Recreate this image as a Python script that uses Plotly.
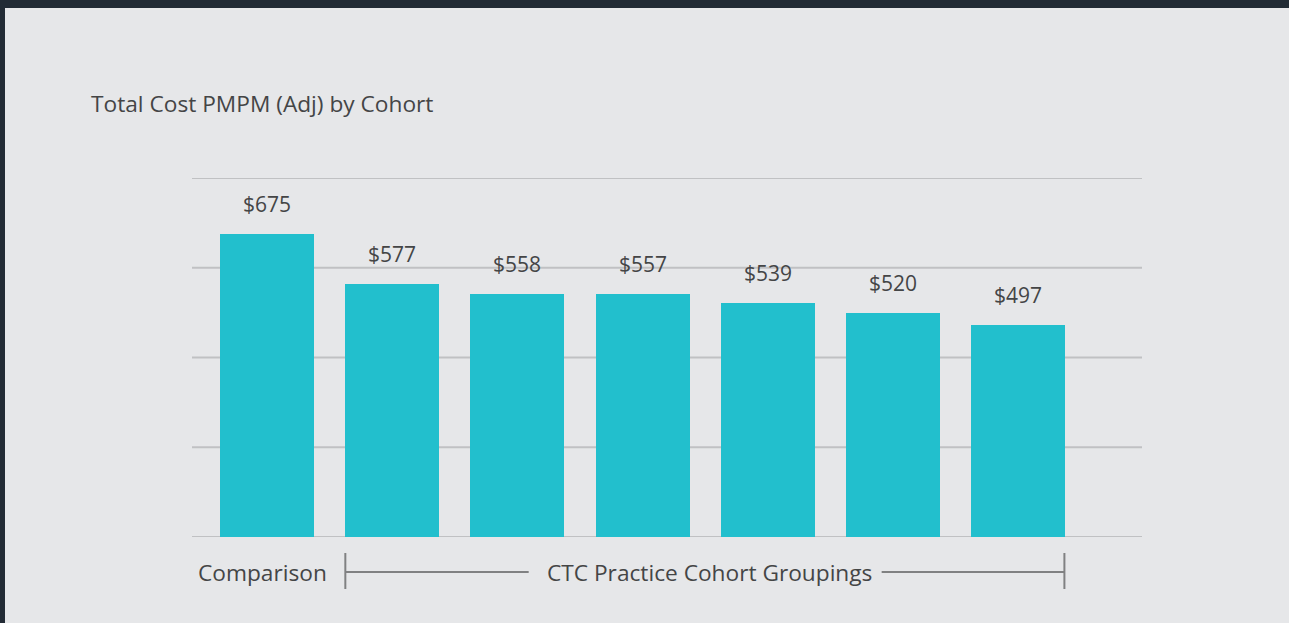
import plotly.graph_objects as go

categories = ["Comparison", "CTC 1", "CTC 2", "CTC 3", "CTC 4", "CTC 5", "CTC 6"]
values = [675, 577, 558, 557, 539, 520, 497]
labels = ["$675", "$577", "$558", "$557", "$539", "$520", "$497"]
grid_vals = [78, 255, 432, 609, 786]
group_left = "Comparison"
group_right = "CTC Practice Cohort Groupings"
title = "Total Cost PMPM (Adj) by Cohort"

W, H = 1289, 623
L, R, T, B = 192, 1142, 178, 537
FONT = "Open Sans"
TXT = "#444546"
BG = "#e6e7e9"
FRAME = "#222b35"
LINE = "#808182"
GRID = "#c0c1c3"

def px(x):
    return (x - L) / (R - L)

def py(y):
    return (B - y) / (B - T)

xs = list(range(len(categories)))

fig = go.Figure()
fig.add_trace(go.Bar(
    x=xs, y=[v - grid_vals[0] for v in values], base=grid_vals[0], width=0.75,
    marker=dict(color="#22bfcd", line=dict(width=0)), hoverinfo="skip",
))

annotations = []
for x, v, t in zip(xs, values, labels):
    annotations.append(dict(x=x, y=v, xref="x", yref="y", text=t, showarrow=False,
                            yanchor="bottom", yshift=14,
                            font=dict(family=FONT, size=21, color=TXT)))
annotations.append(dict(x=px(262), y=py(572), xref="paper", yref="paper", text=group_left,
                        showarrow=False, xanchor="center", yanchor="middle",
                        font=dict(family=FONT, size=22.7, color=TXT)))
annotations.append(dict(x=px(709), y=py(572), xref="paper", yref="paper", text=group_right,
                        showarrow=False, xanchor="center", yanchor="middle",
                        font=dict(family=FONT, size=22.7, color=TXT)))
annotations.append(dict(x=px(89), y=py(103), xref="paper", yref="paper", text=title,
                        showarrow=False, xanchor="left", yanchor="middle",
                        font=dict(family=FONT, size=22.7, color=TXT)))

shapes = [
    dict(type="rect", xref="paper", yref="paper", x0=px(0), x1=px(W), y0=py(0), y1=py(8),
         fillcolor=FRAME, line=dict(width=0), layer="above"),
    dict(type="rect", xref="paper", yref="paper", x0=px(0), x1=px(5), y0=py(0), y1=py(H),
         fillcolor=FRAME, line=dict(width=0), layer="above"),
    dict(type="line", xref="x", yref="paper", x0=0.625, x1=0.625, y0=py(553), y1=py(589),
         line=dict(color=LINE, width=2)),
    dict(type="line", xref="x", yref="paper", x0=0.625, x1=2.09, y0=py(572), y1=py(572),
         line=dict(color=LINE, width=2)),
    dict(type="line", xref="x", yref="paper", x0=4.91, x1=6.37, y0=py(572), y1=py(572),
         line=dict(color=LINE, width=2)),
    dict(type="line", xref="x", yref="paper", x0=6.37, x1=6.37, y0=py(553), y1=py(589),
         line=dict(color=LINE, width=2)),
]
for g in grid_vals:
    shapes.append(dict(type="line", xref="paper", yref="y", x0=0, x1=1, y0=g, y1=g,
                       line=dict(color=GRID, width=2.2), layer="below"))

fig.update_layout(
    width=W, height=H,
    margin=dict(l=L, r=W - R, t=T, b=H - B, pad=0),
    paper_bgcolor=BG, plot_bgcolor=BG,
    showlegend=False,
    bargap=0,
    xaxis=dict(range=[-0.6, 6.99], showticklabels=False, showgrid=False, zeroline=False,
               ticks="", fixedrange=True),
    yaxis=dict(range=[grid_vals[0], grid_vals[-1]], showticklabels=False,
               showgrid=False, zeroline=False, ticks="", fixedrange=True),
    annotations=annotations,
    shapes=shapes,
)
fig.write_html("out.html")
